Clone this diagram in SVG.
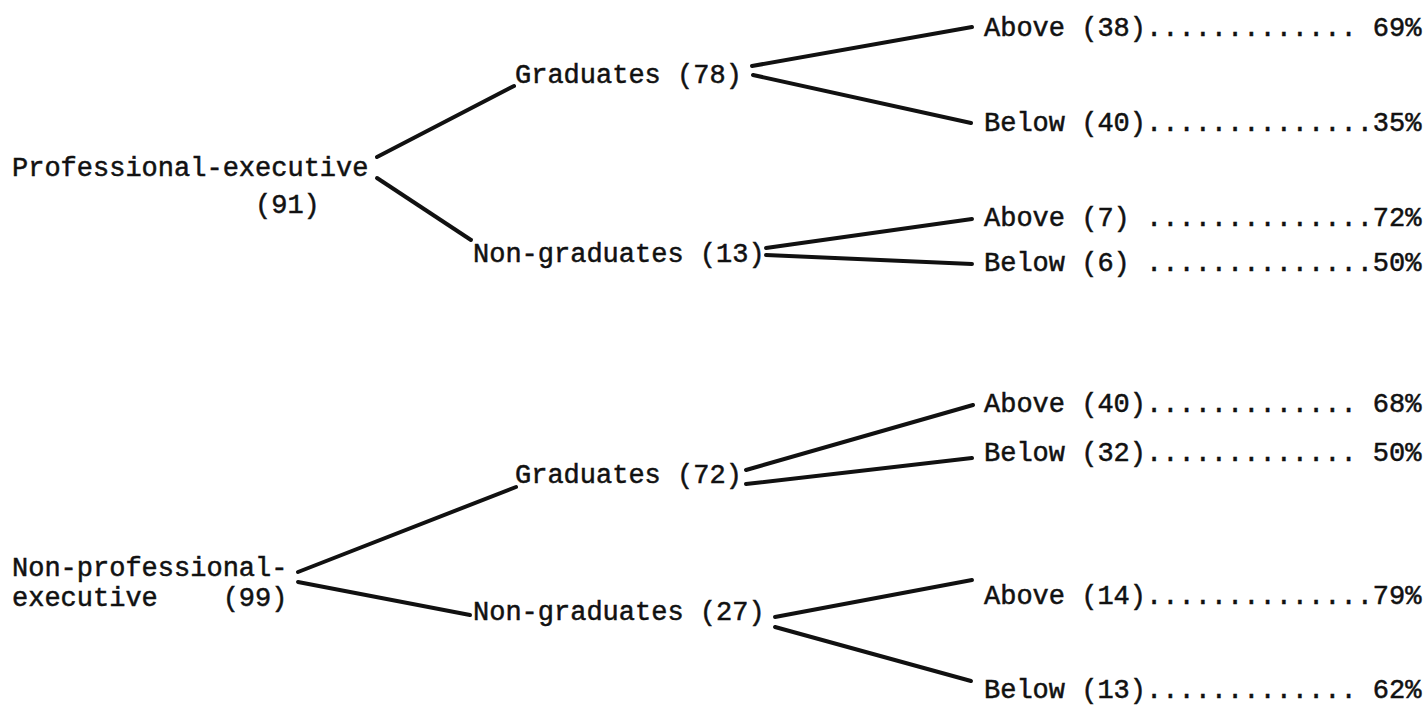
<svg xmlns="http://www.w3.org/2000/svg" width="1424" height="715" viewBox="0 0 1424 715">
  <style>
    text { font-family: "Liberation Mono", "DejaVu Sans Mono", monospace; font-size: 27px; fill: #111; stroke: #111; stroke-width: 0.5; white-space: pre; }
    .edge { stroke: #111; stroke-width: 4; stroke-linecap: round; fill: none; }
  </style>
  <rect width="1424" height="715" fill="#fff"/>

  <!-- branches of the tree -->
  <g id="connectors">
    <line class="edge" x1="377" y1="157" x2="514" y2="86"/>
    <line class="edge" x1="377" y1="178" x2="471" y2="240"/>
    <line class="edge" x1="752" y1="66" x2="972" y2="27"/>
    <line class="edge" x1="753" y1="75" x2="971" y2="123"/>
    <line class="edge" x1="766" y1="248" x2="972" y2="219"/>
    <line class="edge" x1="766" y1="255" x2="972" y2="264"/>
    <line class="edge" x1="746" y1="470" x2="973" y2="405"/>
    <line class="edge" x1="746" y1="484" x2="972" y2="458"/>
    <line class="edge" x1="298" y1="572" x2="516" y2="487"/>
    <line class="edge" x1="298" y1="582" x2="470" y2="615"/>
    <line class="edge" x1="775" y1="617" x2="972" y2="580"/>
    <line class="edge" x1="775" y1="627" x2="971" y2="681"/>
  </g>

  <!-- root categories -->
  <g id="prof-exec">
    <text x="12" y="176">Professional-executive</text>
    <text x="255" y="213">(91)</text>
  </g>
  <g id="nonprof-exec">
    <text x="12" y="576">Non-professional-</text>
    <text x="12" y="606">executive    (99)</text>
  </g>

  <!-- education level -->
  <g id="grad-78"><text x="515" y="83">Graduates (78)</text></g>
  <g id="nongrad-13"><text x="473" y="262">Non-graduates (13)</text></g>
  <g id="grad-72"><text x="515" y="483">Graduates (72)</text></g>
  <g id="nongrad-27"><text x="473" y="620">Non-graduates (27)</text></g>

  <!-- leaves with percentages -->
  <g id="above-38"><text x="984" y="36">Above (38)............. 69%</text></g>
  <g id="below-40"><text x="984" y="131">Below (40)..............35%</text></g>
  <g id="above-7"><text x="984" y="226">Above (7) ..............72%</text></g>
  <g id="below-6"><text x="984" y="271">Below (6) ..............50%</text></g>
  <g id="above-40"><text x="984" y="412">Above (40)............. 68%</text></g>
  <g id="below-32"><text x="984" y="461">Below (32)............. 50%</text></g>
  <g id="above-14"><text x="984" y="604">Above (14)..............79%</text></g>
  <g id="below-13"><text x="984" y="698">Below (13)............. 62%</text></g>
</svg>
